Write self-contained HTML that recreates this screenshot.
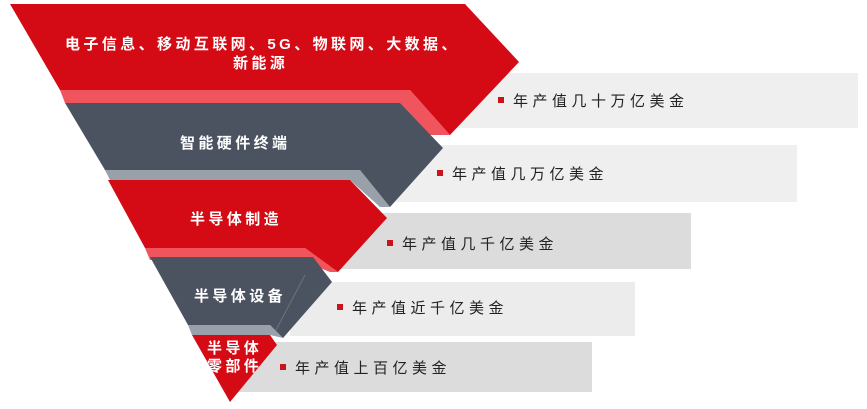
<!DOCTYPE html>
<html><head><meta charset="utf-8"><style>
html,body{margin:0;padding:0;background:#fff;width:867px;height:409px;overflow:hidden}
svg{display:block}
text{font-family:"Liberation Sans","Noto Sans CJK SC",sans-serif;}
.w{fill:#fff;font-size:15px;font-weight:bold;letter-spacing:3.4px}
.d{fill:#222;font-size:15px;letter-spacing:4.5px}
</style></head><body>
<svg width="867" height="409" viewBox="0 0 867 409">
<rect x="440" y="73" width="418" height="55" fill="#efefef"/>
<rect x="380" y="145" width="417" height="57" fill="#efefef"/>
<rect x="330" y="213" width="361" height="56" fill="#dcdcdc"/>
<rect x="290" y="282" width="345" height="54" fill="#ececec"/>
<rect x="235" y="342" width="357" height="50" fill="#dcdcdc"/>
<polygon points="60,90 410,90 450,135 420,135 400,103 65,103" fill="#f0555d"/>
<polygon points="10,4 465,4 519,62 450,135 410,90 60,90" fill="#d40a14"/>
<polygon points="105,170 360,170 390,207 380,207 350,180 110,180" fill="#9aa0a9"/>
<polygon points="65,103 400,103 443,148 390,207 360,170 105,170" fill="#4b5360"/>
<polygon points="145,248 305,248 338,272 330,272 300,260 150,260" fill="#f0555d"/>
<polygon points="108,180 350,180 387,218 338,272 305,248 145,248" fill="#d40a14"/>
<polygon points="188,325 270,325 283,338 270,335 192,335" fill="#9aa0a9"/>
<polygon points="150,257 313,257 332,282 283,338 270,325 188,325" fill="#4b5360"/>
<line x1="305" y1="275" x2="276" y2="330" stroke="#6a7280" stroke-width="1"/>
<polygon points="192,335 270,335 277,345 230,402" fill="#d40a14"/>
<text class="w" x="65" y="49">电子信息、移动互联网、5G、物联网、大数据、</text>
<text class="w" x="233" y="68">新能源</text>
<text class="w" x="180" y="148">智能硬件终端</text>
<text class="w" x="190" y="224">半导体制造</text>
<text class="w" x="194" y="301">半导体设备</text>
<text class="w" x="207" y="353">半导体</text>
<text class="w" x="207" y="371">零部件</text>
<rect x="498" y="97" width="6" height="6" fill="#c8141e"/>
<text class="d" x="513" y="106">年产值几十万亿美金</text>
<rect x="437" y="170" width="6" height="6" fill="#c8141e"/>
<text class="d" x="452" y="179">年产值几万亿美金</text>
<rect x="387" y="240" width="6" height="6" fill="#c8141e"/>
<text class="d" x="402" y="249">年产值几千亿美金</text>
<rect x="337" y="304" width="6" height="6" fill="#c8141e"/>
<text class="d" x="352" y="313">年产值近千亿美金</text>
<rect x="280" y="364" width="6" height="6" fill="#c8141e"/>
<text class="d" x="295" y="373">年产值上百亿美金</text>
</svg>
</body></html>
